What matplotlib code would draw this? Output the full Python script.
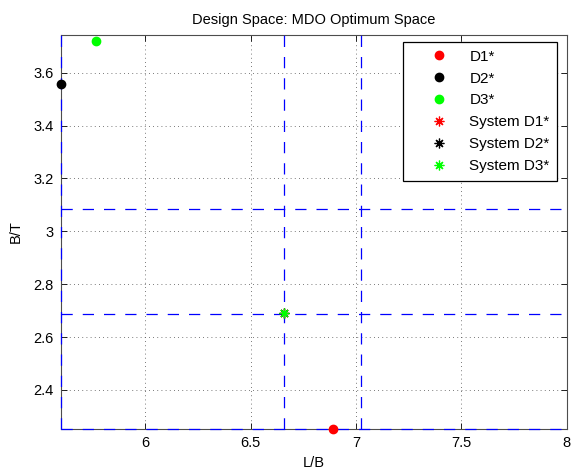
import matplotlib.pyplot as plt

plt.rcParams["font.family"] = ["Liberation Sans", "DejaVu Sans"]

# Individual discipline optima (L/B, B/T)
names = ["D1*", "D2*", "D3*"]
colors = ["red", "black", "lime"]
opt_lb = [6.89, 5.598, 5.768]
opt_bt = [2.252, 3.556, 3.721]

# System-level optima (all coincide)
sys_names = ["System D1*", "System D2*", "System D3*"]
sys_lb = [6.66, 6.66, 6.66]
sys_bt = [2.69, 2.69, 2.69]

# Bound lines of the design space
vlines = [5.598, 6.66, 7.025]
hlines = [2.252, 2.688, 3.084]

xlim = (5.598, 8.0)
ylim = (2.252, 3.743)

fig = plt.figure(figsize=(5.72, 4.71), dpi=100)
ax = fig.add_axes([0.106, 0.089, 0.885, 0.837])

dash = (0, (9, 8))
for x in vlines:
    ax.plot([x, x], ylim, color="blue", lw=0.9, linestyle=dash, zorder=3,
            clip_on=False)
for y in hlines:
    ax.plot(xlim, [y, y], color="blue", lw=0.9, linestyle=dash, zorder=3,
            clip_on=False)

for n, c, x, y in zip(names, colors, opt_lb, opt_bt):
    ax.plot(x, y, "o", color=c, markersize=6, label=n, clip_on=False, zorder=4)

for n, c, x, y in zip(sys_names, colors, sys_lb, sys_bt):
    ax.plot(x, y, linestyle="none", marker=(8, 2, 0), color=c, markersize=7,
            markeredgewidth=0.9, label=n, clip_on=False, zorder=5)

ax.set_xlim(*xlim)
ax.set_ylim(*ylim)
ax.set_xticks([6, 6.5, 7, 7.5, 8])
ax.set_xticklabels(["6", "6.5", "7", "7.5", "8"])
ax.set_yticks([2.4, 2.6, 2.8, 3.0, 3.2, 3.4, 3.6])
ax.set_yticklabels(["2.4", "2.6", "2.8", "3", "3.2", "3.4", "3.6"])
ax.tick_params(direction="in", top=True, right=True, length=4, width=0.6,
               labelsize=10.5, colors="black", pad=5)
ax.grid(True, color="0.3", linestyle=(0, (1, 4)), lw=0.6)
for s in ax.spines.values():
    s.set_linewidth(0.8)
    s.set_color("0.3")
    s.set_zorder(2)

ax.set_xlabel("L/B", fontsize=10.5, labelpad=4)
ax.set_ylabel("B/T", fontsize=10.5, labelpad=8)
ax.set_title("Design Space: MDO Optimum Space", fontsize=10.5, pad=8)

leg = ax.legend(loc="upper right", bbox_to_anchor=(0.981, 0.982), fontsize=11,
                fancybox=False, framealpha=1, edgecolor="black",
                labelspacing=0.52, handlelength=3.7, handletextpad=0.12,
                borderpad=0.5, borderaxespad=0)
leg.get_frame().set_linewidth(0.9)

fig.savefig("out.png", dpi=100)
